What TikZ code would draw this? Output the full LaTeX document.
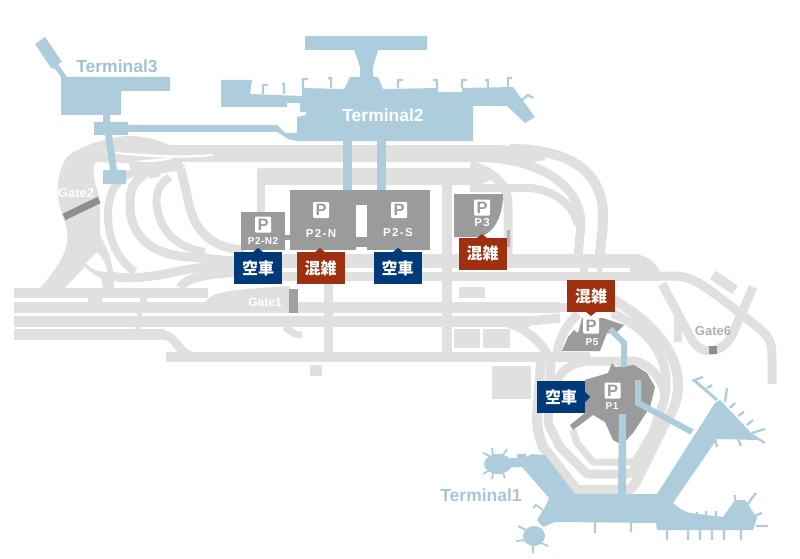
\documentclass[tikz,border=0pt]{standalone}
\usepackage{fontspec}
\setmainfont{Liberation Sans}
\newfontfamily\cjkfont{Noto Sans CJK JP}
\definecolor{roadc}{HTML}{E0E0DE}
\definecolor{termc}{HTML}{ADCDDC}
\definecolor{parkc}{HTML}{9B9B9B}
\definecolor{navyc}{HTML}{003A78}
\definecolor{redc}{HTML}{9E3010}
\definecolor{barc}{HTML}{8F8F8F}
\tikzset{
 road/.style={draw=roadc,line width=#1,line cap=butt,line join=round},
 road/.default=9,
 pier/.style={draw=termc,line width=2.3},
 bridge/.style={draw=termc,line width=6,line join=miter},
 picon/.style={fill=white,draw=none,rounded corners=1pt,minimum size=16,inner sep=0,text=parkc,font=\bfseries\fontsize{16.5}{16.5}\selectfont},
 parklabel/.style={text=white,inner sep=0,font=\bfseries\fontsize{11.5}{12}\selectfont\addfontfeature{LetterSpace=12}},
 parksmall/.style={text=white,inner sep=0,font=\bfseries\fontsize{10}{11}\selectfont\addfontfeature{LetterSpace=5}},
 tname/.style={inner sep=0,font=\bfseries\fontsize{17.5}{18}\selectfont},
 gname/.style={inner sep=0,font=\bfseries\fontsize{13}{14}\selectfont},
 status/.style={minimum width=48,minimum height=32,inner sep=0,text=white,font=\cjkfont\bfseries\fontsize{16}{16}\selectfont},
}
\begin{document}
\begin{tikzpicture}[x=1pt,y=-1pt]
\useasboundingbox (0,0) rectangle (800,559);
% ---- roads: straight bars
\fill[roadc] (14,288) rectangle (208,298);
\fill[roadc] (14,302) rectangle (290,313);
\fill[roadc] (14,316) rectangle (530,327);
\fill[roadc] (14,329) rectangle (165,340);
\fill[roadc] (166,352) rectangle (590,362);
\fill[roadc] (240,302) rectangle (560,313);
\fill[roadc] (245,254) rectangle (640,268);
\fill[roadc] (245,272) rectangle (660,281);
\fill[roadc] (630,254) .. controls (648,254) and (655,262) .. (660,272) -- (630,272) -- cycle;
\fill[roadc] (205,302) .. controls (212,292) and (225,290) .. (290,286) -- (290,302) -- cycle;
\fill[roadc] (88,298) rectangle (102,302) (140,298) rectangle (147,302) (137,313) rectangle (142,316) (135,327) rectangle (140,329);
\fill[roadc] (580,268) rectangle (588,272) (597,268) rectangle (602,272);
\fill[roadc] (459,287) rectangle (485,298);
\fill[roadc] (454,329) rectangle (480,348);
\fill[roadc] (483,329) rectangle (510,348);
\fill[roadc] (310,365) rectangle (322,376);
\fill[roadc] (492,366) rectangle (531,399);
\draw[road=9] (328,280) -- (328,352);
\draw[road=10] (447,180) -- (447,352);
\draw[road=9] (160,334.5) .. controls (180,335) and (176,357) .. (198,357);
\draw[road=7] (285,327) .. controls (292,333) and (296,335) .. (302,335);
\draw[road=9] (505,322) .. controls (525,328) and (540,340) .. (548,356);
\draw[road=9] (550,307) -- (572,307);
\draw[road=9] (530,321) -- (560,318);
% ---- top bands and loops
\fill[roadc] (180,145) -- (495,145) .. controls (510,145) and (530,148) .. (545,152) -- (545,160) .. controls (525,165) and (510,162) .. (495,162) -- (180,162) -- cycle;
\fill[roadc] (258,168) -- (470,168) .. controls (485,168) and (490,172) .. (495,178) -- (480,185) -- (258,185) -- cycle;
\draw[road=8] (261,170) -- (261,212);
\draw[road=10] (510,149) .. controls (580,149) and (603,180) .. (603,215) .. controls (603,235) and (600,245) .. (600,256);
\draw[road=9] (470,157) .. controls (540,157) and (581,185) .. (581,225) -- (578,256);
\draw[road=8] (470,188) -- (530,188) .. controls (555,190) and (573,205) .. (578,225);
\draw[road=9] (470,165) .. controls (495,172) and (508,185) .. (508,205) -- (508,254);
% left mass
\fill[roadc] (40,288) .. controls (60,265) and (72,247) .. (66,225) .. controls (55,200) and (55,175) .. (67,157) .. controls (80,145) and (115,135) .. (133,136) .. controls (150,137) and (160,141) .. (170,145) -- (182,145) -- (182,170) -- (135,178) -- (128,163) -- (96,162) .. controls (90,170) and (96,185) .. (100,200) -- (100,235) .. controls (108,250) and (114,262) .. (114,288) -- cycle;
\draw[road=9] (180,165) .. controls (183,180) and (185,185) .. (187,195) .. controls (192,225) and (205,248) .. (245,250);
\draw[road=9] (160,172) .. controls (135,175) and (130,185) .. (130,205) .. controls (130,235) and (150,255) .. (190,257) -- (245,262);
\draw[road=8] (170,177) .. controls (158,185) and (155,195) .. (157,208) .. controls (162,235) and (180,248) .. (205,252);
\draw[road=8] (135,172) .. controls (115,178) and (108,195) .. (108,215) .. controls (108,240) and (118,260) .. (135,272);
\draw[road=9] (85,262) .. controls (100,278) and (125,282) .. (170,273) .. controls (190,268) and (210,266) .. (245,265);
\draw[road=9] (180,288) .. controls (186,278) and (200,275) .. (240,272);
% white pockets and slits in the left mass
\fill[white] (65,288) -- (85,267) .. controls (90,272) and (95,276) .. (101,278) -- (103,288) -- cycle;
\fill[white] (86,263) -- (97,252) .. controls (104,260) and (107,266) .. (107,272) .. controls (100,272) and (92,270) .. (86,263) -- cycle;
\fill[white] (98,151.5) .. controls (130,152) and (170,158) .. (213,154) -- (213,156) .. controls (170,160) and (130,156) .. (98,151.5) -- cycle;
\fill[white] (133,161) .. controls (150,160) and (165,158) .. (172,157) -- (172,159) .. controls (160,162) and (145,163) .. (133,161) -- cycle;
\fill[white] (183,167) -- (470,163.5) -- (470,167.5) -- (183,168.5) -- cycle;
\fill[white] (265,185) rectangle (290,197);
\fill[white] (430,185) rectangle (442,197);
\fill[white] (141,183) -- (149,176) -- (146,192) -- (140,199) -- cycle;
\fill[white] (115,202) -- (119,196) -- (118,206) -- (115,208) -- cycle;
% ---- right roads
\draw[road=9] (650,276) -- (675,276) .. controls (695,276) and (710,290) .. (755,325) .. controls (772,338) and (772,345) .. (772,360) -- (772,384);
\draw[road=9] (753,287) -- (733,333) .. controls (725,352) and (703,358) .. (692,340) -- (662,284);
\draw[road=10] (713,275) -- (735,290);
\draw[road=8] (678,317) -- (678,342);
\fill[barc] (709,346) rectangle (717,354);
% ---- ring roads around P1 and P5
\draw[road=10] (610,298) .. controls (650,320) and (678,350) .. (678,385) .. controls (678,405) and (670,415) .. (663,427) -- (637,480) .. controls (633,488) and (630,490) .. (625,490) -- (577,490) -- (543,447) .. controls (538,435) and (537,425) .. (537,417) -- (541,362);
\draw[road=9] (612,313) .. controls (640,325) and (660,345) .. (665,370) .. controls (668,385) and (665,400) .. (660,412) -- (647,450) -- (632,472) .. controls (630,474) and (628,474) .. (625,474) -- (587,474) -- (560,447) -- (548,423) -- (551,362);
\draw[road=7] (661,417) -- (637,458) .. controls (635,461) and (632,462) .. (628,462) -- (593,462) -- (577,443) -- (573,430);
\draw[road=9] (556,388) .. controls (556,372) and (572,362) .. (590,361) -- (635,361) .. controls (650,365) and (662,378) .. (664,392);
\draw[road=9] (557,355) .. controls (558,340) and (566,325) .. (578,314);
\fill[white] (524,362) rectangle (536,366);
% ---- parking
\fill[parkc] (290,190) rectangle (430,250);
\fill[white] (356,205) rectangle (367,237);
\fill[white] (356,247) rectangle (367,250);
\fill[parkc] (241,212) rectangle (285,250);
\fill[parkc] (285,235) rectangle (290,240);
\fill[parkc] (454,194) -- (503,194) .. controls (503,215) and (495,234) .. (478,237) -- (454,237) -- cycle;
\fill[parkc!70!roadc] (507,230) rectangle (509.5,247);
\fill[parkc] (562,351) -- (568,337) -- (574,330) -- (578,333) -- (582,318) -- (603,318) -- (624,325) -- (615,334) -- (607,333) -- (600,351) -- cycle;
\fill[parkc] (585,380) -- (608,373) -- (612,363) -- (615,367) -- (634,365) -- (647,373) -- (655,387) -- (650,407) -- (633,433) -- (622,445) -- (613,440) -- (605,422) -- (593,415) -- (573,430) -- (570,425) -- (585,413) -- cycle;
% gate barriers
\draw[barc,line width=7] (64,217) -- (99,200);
\fill[barc!85!white] (289,289) rectangle (298,313);
% ---- terminals
% terminal 3
\fill[termc] (35,44) -- (45,37) -- (62,62) -- (58,64) -- (67,77) -- (170,77) -- (170,91) -- (121,91) -- (121,115) -- (110,115) -- (110,122) -- (128,122) -- (128,125) -- (277,125) -- (285,133) -- (297,133) -- (297,141) -- (288,139) -- (277,132) -- (128,132) -- (128,135) -- (112,135) -- (117,170) -- (126,170) -- (126,184) -- (103,184) -- (103,170) -- (110,170) -- (105,135) -- (94,135) -- (94,122) -- (103,122) -- (103,115) -- (61,115) -- (61,77) -- (55,69) -- (51,68) -- cycle;
% terminal 2
\fill[termc] (305,36) -- (427,36) -- (427,50) -- (378,50) -- (373,67) -- (373,77) -- (378,77) -- (383,89) -- (438,88) -- (438,92) -- (462,92) -- (462,88) -- (513,87) -- (535,117) -- (525,123) -- (507,106) -- (473,106) -- (473,141) -- (297,141) -- (297,117) -- (306,115) -- (306,112) -- (300,112) -- (300,103) -- (287,103) -- (287,107) -- (221,107) -- (221,80) -- (252,80) -- (250,94) -- (302,96) -- (302,88) -- (344,89) -- (350,77) -- (360,77) -- (360,67) -- (354,50) -- (305,50) -- cycle;
\draw[pier] (263,94) -- (263,85) -- (268,85) (284,94) -- (284,84) -- (282,84) (303,88) -- (303,79) -- (308,79) (331,88) -- (331,78) -- (328,78) (398,88) -- (398,80) -- (403,80) (437,88) -- (437,80) -- (433,80) (462,88) -- (462,80) -- (467,80) (488,88) -- (488,80) -- (485,80) (508,87) -- (508,78) -- (512,78) (522,100) -- (528,95) -- (533,98);
\fill[termc] (343,141) rectangle (352,190);
\fill[termc] (377,141) rectangle (386,190);
% terminal 1
\fill[termc] (510,458) -- (517,458) -- (517,454) -- (526,454) -- (526,457) -- (532,454) -- (545,455) -- (575,494) -- (618,494) -- (619,414) -- (626,414) -- (626,494) -- (657,494) -- (715,403) -- (720,400) -- (758,440) -- (717,439) -- (673,503) -- (682,510) -- (690,513) -- (723,517) -- (735,500) -- (745,500) -- (757,518) -- (753,530) -- (657,530) -- (656,523) -- (555,522) -- (543,527) -- (537,520) -- (545,507) -- (549,498) -- (522,467) -- (510,467) -- cycle;
\fill[termc] (498,464) ellipse[x radius=14,y radius=10];
\fill[termc] (534,536) ellipse[x radius=11,y radius=10];
\draw[pier,line width=1.8] (490,456) -- (483,453) (493,455) -- (492,448) (503,455) -- (507,449) (488,471) -- (483,474) (493,473) -- (492,479) (503,473) -- (505,478);
\draw[pier,line width=1.8] (526,530) -- (518,526) (525,540) -- (516,541) (533,546) -- (533,553) (541,543) -- (548,546) (543,510) -- (536,505) -- (533,508);
\draw[pier,line width=3] (695,381) -- (717,400);
\draw[pier] (692,381) -- (703,377) (707,388) -- (712,385) (725,402) -- (727,388) (730,408) -- (735,403) (738,416) -- (744,412) (747,425) -- (753,420) (752,433) -- (765,429) (752,435) -- (765,443) (738,439) -- (741,446) (715,438) -- (717,447);
\draw[pier] (595,522) -- (595,533) (631,522) -- (631,532) (667,530) -- (667,540) (688,530) -- (688,540) (700,530) -- (700,540) (712,530) -- (712,540) (724,530) -- (724,540) (741,530) -- (741,540) (697,517) -- (697,512) (706,517) -- (706,511) (716,517) -- (716,511) (735,500) -- (735,495) (746,507) -- (752,498) -- (756,493) (755,516) -- (762,513) (756,526) -- (768,526);
% bridges
\draw[bridge] (610,329) -- (624,343) -- (624,367);
\draw[bridge] (638,380) -- (638,403) -- (692,432);
\fill[termc] (619,414) rectangle (626,445);
% ---- gate and terminal labels
\node[tname,text=termc!85!gray] (t3) at (117,66) {Terminal3};
\node[tname,text=white] (t2) at (383,115.5) {Terminal2};
\node[tname,text=termc!90!gray] (t1) at (481,495) {Terminal1};
\node[gname,text=white] (g2) at (76,193) {Gate2};
\node[gname,text=white,font=\bfseries\fontsize{12}{13}\selectfont] (g1) at (265,302) {Gate1};
\node[gname,text=parkc!80!white] (g6) at (713,331) {Gate6};
% ---- parking icons
\node[picon] (pn) at (321,210) {P};
\node[picon] (ps) at (399,210) {P};
\node[picon] (pn2) at (263,224.5) {P};
\node[picon] (p3) at (482,207.5) {P};
\node[picon] (p5) at (591,325.5) {P};
\node[picon] (p1) at (612.5,390.5) {P};
\node[parklabel] (ln) at (321,233) {P2-N};
\node[parklabel] (ls) at (398,233) {P2-S};
\node[parksmall] (ln2) at (263,241) {P2-N2};
\node[parklabel] (l3) at (482,223) {P3};
\node[parksmall] (l5) at (592,342) {P5};
\node[parksmall] (l1) at (612,406) {P1};
% ---- status labels
\fill[navyc] (253,252) -- (258,248) -- (263,252) -- cycle;
\node[status,fill=navyc] (s1) at (258,268) {空車};
\fill[redc] (315,252) -- (320,248) -- (325,252) -- cycle;
\node[status,fill=redc] (s2) at (320.5,268) {混雑};
\fill[navyc] (393,252) -- (398,248) -- (403,252) -- cycle;
\node[status,fill=navyc] (s3) at (397.5,268) {空車};
\fill[redc] (477,238) -- (482,234) -- (487,238) -- cycle;
\node[status,fill=redc] (s4) at (482.5,253.5) {混雑};
\fill[redc] (586,312) -- (591,316) -- (596,312) -- cycle;
\node[status,fill=redc] (s5) at (591,296) {混雑};
\fill[navyc] (585,392) -- (590,397) -- (585,402) -- cycle;
\node[status,fill=navyc] (s6) at (561,397) {空車};
\end{tikzpicture}
\end{document}
